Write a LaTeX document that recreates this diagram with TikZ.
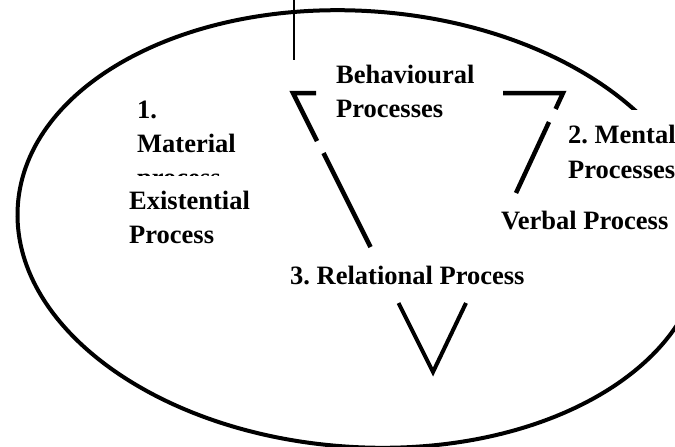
\documentclass[tikz,border=0pt]{standalone}
\usepackage{fontspec}
\setmainfont{Liberation Serif}
\frenchspacing
\begin{document}
\begin{tikzpicture}[x=1pt,y=-1pt,
  lbl/.style={anchor=base west,inner sep=0pt,font=\fontsize{26.5}{34}\selectfont\bfseries},
  tri/.style={line width=4.5pt},
  vee/.style={line width=4pt},
  oval/.style={line width=4pt}]
\useasboundingbox (0,0) rectangle (675,447);
\clip (0,0) rectangle (675,447);
% outer oval
\draw[oval,rotate around={-4:(360,229)}] (360,229) ellipse [x radius=343pt, y radius=218pt];
% white cover behind "2. Mental Processes"
\fill[white] (585,110) rectangle (676,190);
% vertical line at the top
\coordinate (vtop) at (294,0);
\coordinate (vbot) at (294,60);
\draw[line width=1.5pt] (vtop) -- (vbot);
% triangle pieces
\draw[tri] (316,93) -- (293,93) -- (317,141);
\draw[tri] (323.5,153) -- (370.5,247);
\draw[vee] (398.5,303) -- (433,372) -- (466,303);
\draw[tri] (503,93) -- (563,93) -- (555.6,109);
\draw[tri] (549,122) -- (516,193);
% texts
\node[lbl] (m1) at (137,118) {1.};
\node[lbl] (m2) at (137,152) {Material};
\node[lbl] (m3) at (137,186) {process};
\fill[white] (120,176) rectangle (265,215);
\node[lbl] (e1) at (129,209) {Existential};
\node[lbl] (e2) at (129,243) {Process};
\node[lbl] (b1) at (336,83) {Behavioural};
\node[lbl] (b2) at (336,117) {Processes};
\node[lbl] (n1) at (568,143) {2. Mental};
\node[lbl] (n2) at (568,178) {Processes};
\node[lbl] (v1) at (501,229) {Verbal Process};
\node[lbl] (r1) at (290,284) {3. Relational Process};
\end{tikzpicture}
\end{document}
